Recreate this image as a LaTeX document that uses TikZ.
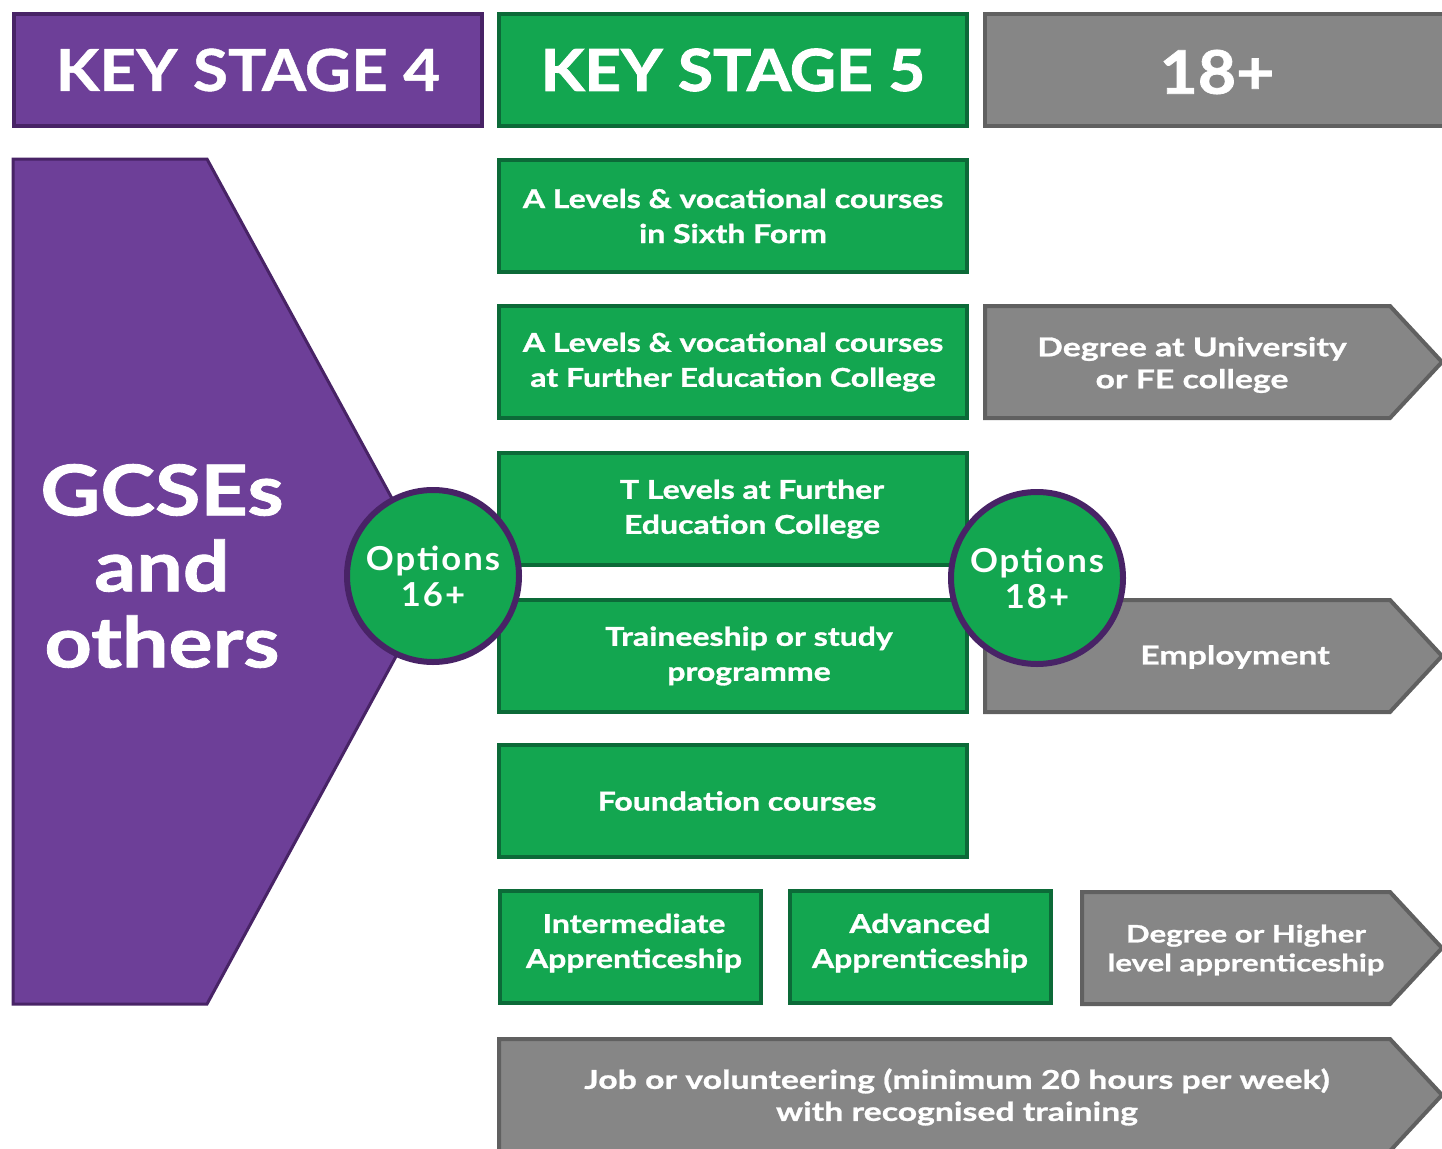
\documentclass[tikz,border=0pt]{standalone}
\usepackage{fontspec}
\setmainfont{Lato}

\definecolor{kspurple}{RGB}{109,63,152}
\definecolor{ksdkpurple}{RGB}{72,35,102}
\definecolor{ksgreen}{RGB}{19,166,80}
\definecolor{ksdkgreen}{RGB}{12,106,56}
\definecolor{ksgrey}{RGB}{134,134,134}
\definecolor{ksdkgrey}{RGB}{96,96,96}

\tikzset{
  head/.style={line width=4pt,minimum width=468pt,minimum height=112pt,inner sep=0pt,text=white,font=\bfseries\fontsize{58}{60}\selectfont\addfontfeature{FakeStretch=1.1,FakeBold=0.8}},
  greenbox/.style={draw=ksdkgreen,fill=ksgreen,line width=4pt,minimum height=112pt,inner sep=0pt},
  boxtext/.style={text=white,align=center,inner sep=0pt,font=\bfseries\fontsize{26}{35}\selectfont\addfontfeature{FakeStretch=1.23,FakeBold=1.2}},
  arrowbox/.style={draw=ksdkgrey,fill=ksgrey,line width=4pt,line join=miter},
  greytext/.style={text=white,align=center,inner sep=0pt,font=\bfseries\fontsize{26}{32}\selectfont\addfontfeature{FakeStretch=1.3,FakeBold=1}},
  optcircle/.style={circle,draw=ksdkpurple,fill=ksgreen,line width=6pt,minimum size=172pt,inner sep=0pt,text=white,align=center,font=\bfseries\fontsize{33}{36}\selectfont\addfontfeature{LetterSpace=6,FakeStretch=1.05}}
}

\begin{document}
\begin{tikzpicture}[x=1pt,y=-1pt]
  \useasboundingbox (0,0) rectangle (1442,1148);

  % headers
  \node[head,draw=ksdkpurple,fill=kspurple] (ksfour) at (248,70) {KEY STAGE 4};
  \node[head,draw=ksdkgreen,fill=ksgreen,font=\bfseries\fontsize{58}{60}\selectfont\addfontfeature{FakeStretch=1.1,FakeBold=1.6}] (ksfive) at (733,70) {KEY STAGE 5};
  \draw[line width=4pt,draw=ksdkgrey,fill=ksgrey] (985,14) rectangle (1470,126);
  \node[text=white,font=\bfseries\fontsize{60}{62}\selectfont\addfontfeature{FakeStretch=1.1,FakeBold=1.2}] (eighteen) at (1217,72) {18+};

  % key stage 4 chevron
  \draw[line width=3pt,draw=ksdkpurple,fill=kspurple,line join=miter] (13,159) -- (207,159) -- (437,581) -- (207,1004) -- (13,1004) -- cycle;
  \node[text=white,align=center,font=\bfseries\fontsize{70}{76}\selectfont\addfontfeature{FakeStretch=1.18,FakeBold=1.2}] (gcse) at (162,566) {GCSEs\\and\\others};

  % key stage 5 boxes
  \node[greenbox,minimum width=468pt] (sixth) at (733,216) {};
  \node[boxtext] (sixthtxt) at (sixth) {A Levels \& vocational courses\\in Sixth Form};
  \node[greenbox,minimum width=468pt] (fecollege) at (733,362) {};
  \node[boxtext] (fecollegetxt) at (fecollege) {A Levels \& vocational courses\\at Further Education College};
  \node[greenbox,minimum width=468pt] (tlevels) at (733,509) {};
  \node[boxtext] (tlevelstxt) at (752,509) {T Levels at Further\\Education College};
  \node[greenbox,minimum width=468pt] (trainee) at (733,656) {};
  \node[boxtext] (traineetxt) at (749,656) {Traineeship or study\\programme};
  \node[greenbox,minimum width=468pt] (foundation) at (733,801) {};
  \node[boxtext] (foundationtxt) at (737,801) {Foundation courses};
  \node[greenbox,minimum width=261pt] (intermed) at (630,947) {};
  \node[boxtext] (intermedtxt) at (634,943) {Intermediate\\Apprenticeship};
  \node[greenbox,minimum width=261pt] (advanced) at (920,947) {};
  \node[boxtext] (advancedtxt) at (920,943) {Advanced\\Apprenticeship};

  % 18+ arrows
  \draw[arrowbox] (985,306) -- (1390,306) -- (1442,362) -- (1390,418) -- (985,418) -- cycle;
  \node[greytext] (degree) at (1192,365) {Degree at University\\or FE college};
  \draw[arrowbox] (985,600) -- (1390,600) -- (1442,656) -- (1390,712) -- (985,712) -- cycle;
  \node[greytext] (employ) at (1235,657) {Employment};
  \draw[arrowbox] (1082,892) -- (1390,892) -- (1442,948) -- (1390,1004) -- (1082,1004) -- cycle;
  \node[greytext,font=\bfseries\fontsize{24}{29}\selectfont\addfontfeature{FakeStretch=1.3,FakeBold=1}] (higher) at (1246,950) {Degree or Higher\\level apprenticeship};
  \draw[arrowbox] (499,1039) -- (1390,1039) -- (1442,1095) -- (1390,1151) -- (499,1151) -- cycle;
  \node[greytext] (job) at (957,1097) {Job or volunteering (minimum 20 hours per week)\\with recognised training};

  % option circles
  \node[optcircle] (optsixteen) at (433,576) {Options\\16+};
  \node[optcircle] (opteighteen) at (1037,578) {Options\\18+};
\end{tikzpicture}
\end{document}
